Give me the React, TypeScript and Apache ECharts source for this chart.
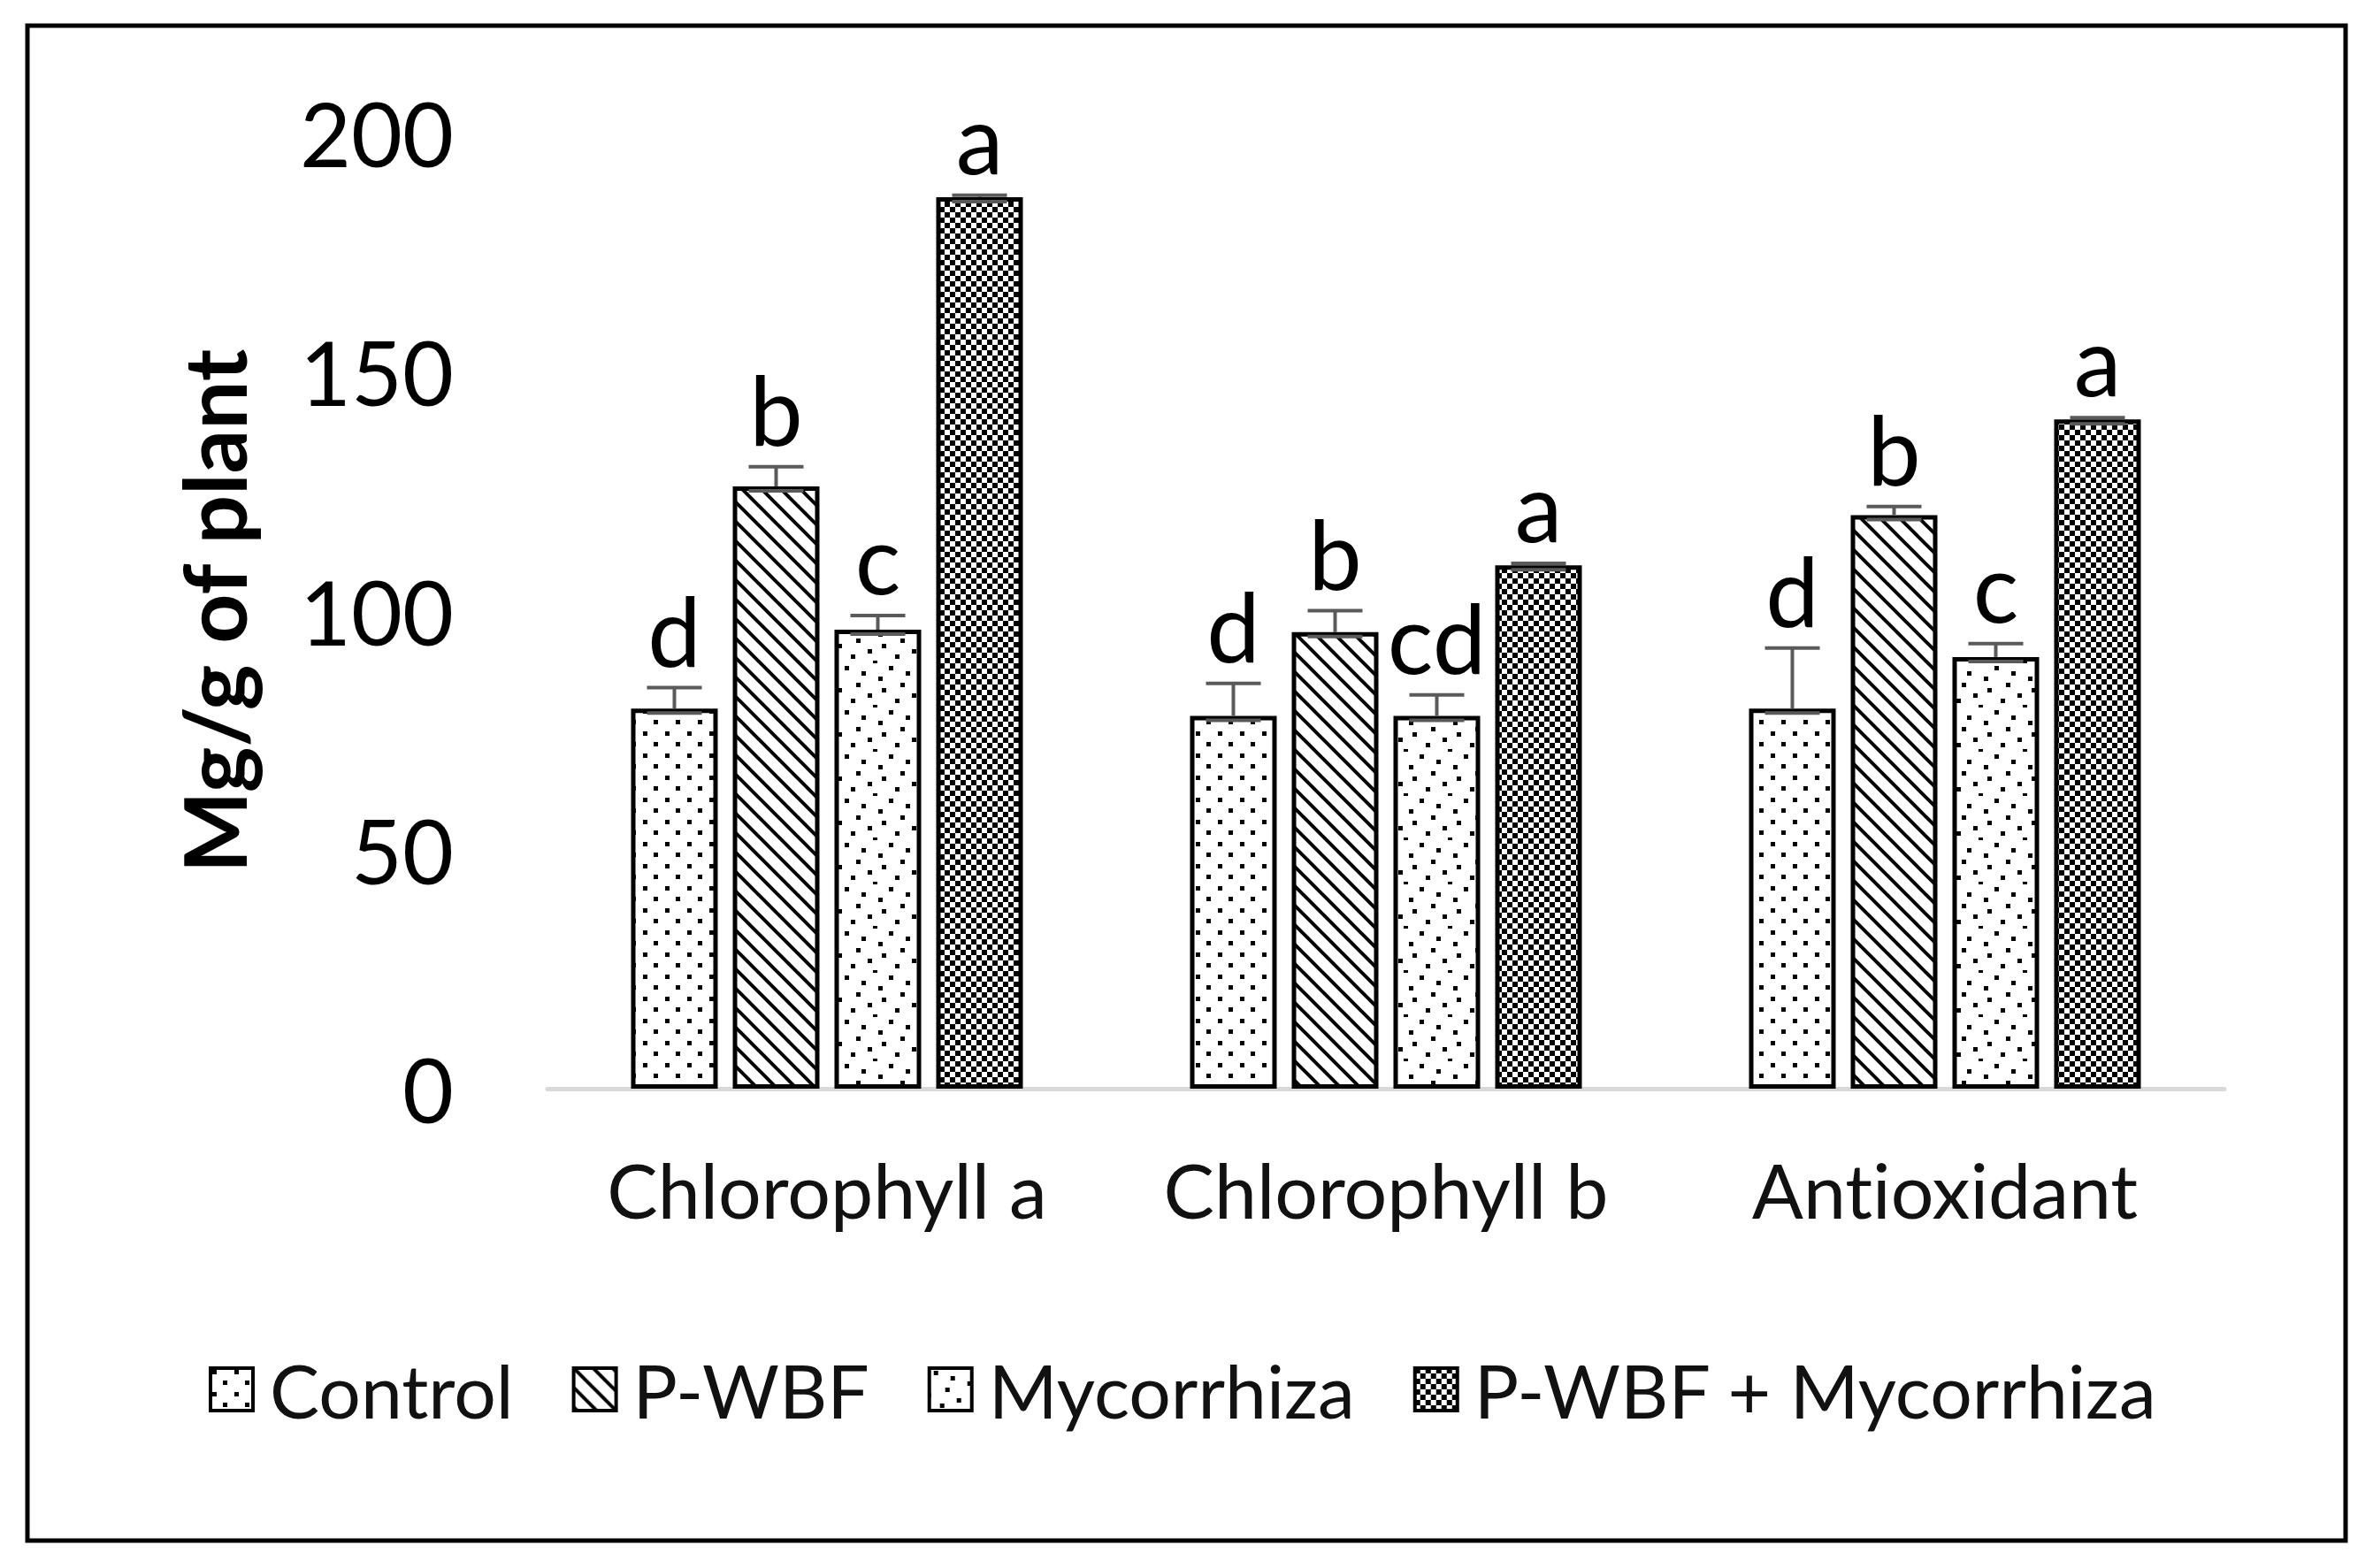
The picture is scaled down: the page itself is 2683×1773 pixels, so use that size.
import React, { useEffect, useRef } from 'react';
import * as echarts from 'echarts';

const categories = ['Chlorophyll a', 'Chlorophyll b', 'Antioxidant'];
const seriesNames = ['Control', 'P-WBF', 'Mycorrhiza', 'P-WBF + Mycorrhiza'];

const controlValues = [79.5, 78, 79.5];
const pwbfValues = [126, 95.5, 120];
const mycorrhizaValues = [96, 78, 90.3];
const combinedValues = [186.5, 109.5, 140];

const controlErr = [4.4, 6.8, 12.7];
const pwbfErr = [4.1, 4.5, 1.8];
const mycorrhizaErr = [3.0, 4.4, 2.8];
const combinedErr = [0.4, 0.4, 0.4];

const controlLetters = ['d', 'd', 'd'];
const pwbfLetters = ['b', 'b', 'b'];
const mycorrhizaLetters = ['c', 'cd', 'c'];
const combinedLetters = ['a', 'a', 'a'];

const yMin = 0;
const yMax = 200;
const yInterval = 50;

const FONT = 'Lato, "Open Sans", sans-serif';
const BAR_W = 98;
const BAR_GAP = 17;
const STEP = BAR_W + BAR_GAP;

function makeTile(w: number, h: number, draw: (ctx: CanvasRenderingContext2D) => void) {
  const c = document.createElement('canvas');
  c.width = w;
  c.height = h;
  const ctx = c.getContext('2d')!;
  ctx.fillStyle = '#ffffff';
  ctx.fillRect(0, 0, w, h);
  ctx.fillStyle = '#000000';
  ctx.strokeStyle = '#000000';
  draw(ctx);
  return { image: c, repeat: 'repeat', imageWidth: w, imageHeight: h } as any;
}

function buildPatterns() {
  const dots = makeTile(25, 25, (ctx) => {
    ctx.fillRect(2, 2, 5, 5);
    ctx.fillRect(14, 14, 5, 5);
  });
  const diag = makeTile(22, 22, (ctx) => {
    ctx.lineWidth = 4;
    for (const x0 of [-22, 0, 22]) {
      ctx.beginPath();
      ctx.moveTo(x0 - 2, -2);
      ctx.lineTo(x0 + 24, 24);
      ctx.stroke();
    }
  });
  const rows = [3, 9, 15, 22, 28, 34, 40, 47];
  const cols = [5, 24, 43, 18, 47, 31, 12, 37];
  const scatter = makeTile(50, 50, (ctx) => {
    rows.forEach((y, i) => {
      ctx.fillRect(cols[i], y, 5, 5);
      ctx.fillRect(cols[i] - 50, y, 5, 5);
    });
  });
  const checker = makeTile(12, 12, (ctx) => {
    ctx.fillRect(0, 0, 6, 6);
    ctx.fillRect(6, 6, 6, 6);
  });
  return [dots, diag, scatter, checker];
}

export default function App() {
  const ref = useRef<HTMLDivElement>(null);

  useEffect(() => {
    document.body.style.margin = '0';
    document.body.style.overflow = 'hidden';
    if (!ref.current) return;
    const chart = echarts.init(ref.current, undefined, { renderer: 'svg' });

    const values = [controlValues, pwbfValues, mycorrhizaValues, combinedValues];
    const errs = [controlErr, pwbfErr, mycorrhizaErr, combinedErr];
    const letters = [controlLetters, pwbfLetters, mycorrhizaLetters, combinedLetters];
    const patterns = buildPatterns();

    const barSeries = seriesNames.map((name, si) => ({
      type: 'bar',
      name,
      data: values[si],
      barWidth: BAR_W,
      barGap: `${(BAR_GAP / BAR_W) * 100}%`,
      itemStyle: {
        color: patterns[si],
        borderColor: '#000',
        borderWidth: 5,
      },
      z: 2,
    }));

    const errSeries = seriesNames.map((name, si) => ({
      type: 'custom',
      name: name + ' error',
      silent: true,
      z: 5,
      data: categories.map((_, ci) => [ci, values[si][ci], errs[si][ci]]),
      renderItem: (params: any, api: any) => {
        const ci = api.value(0);
        const v = api.value(1);
        const e = api.value(2);
        const base = api.coord([ci, v]);
        const top = api.coord([ci, v + e]);
        const x = base[0] + (si - 1.5) * STEP;
        const half = 31;
        const lineStyle = { stroke: '#5a5a5a', lineWidth: 4 };
        return {
          type: 'group',
          children: [
            { type: 'line', shape: { x1: x, y1: base[1], x2: x, y2: top[1] }, style: lineStyle },
            { type: 'line', shape: { x1: x - half, y1: top[1], x2: x + half, y2: top[1] }, style: lineStyle },
            { type: 'line', shape: { x1: x - half, y1: base[1] + 5, x2: x + half, y2: base[1] + 5 }, style: lineStyle },
            {
              type: 'text',
              x,
              y: top[1] - 12,
              style: {
                text: letters[si][params.dataIndex],
                fontFamily: FONT,
                fontSize: 108,
                fill: '#000',
                align: 'center',
                verticalAlign: 'bottom',
              },
            },
          ],
        };
      },
    }));

    chart.setOption({
      animation: false,
      backgroundColor: '#ffffff',
      grid: { left: 619, right: 168, top: 150, bottom: 542, containLabel: false },
      legend: {
        data: seriesNames,
        left: 231,
        top: 1524,
        icon: 'rect',
        itemWidth: 48,
        itemHeight: 48,
        itemGap: 66,
        itemStyle: { borderColor: '#000', borderWidth: 4 },
        textStyle: { fontFamily: FONT, fontSize: 84, color: '#111', padding: [0, 0, 0, 14] },
      },
      xAxis: {
        type: 'category',
        data: categories,
        axisLine: { show: true, lineStyle: { color: '#d9d9d9', width: 5 } },
        axisTick: { show: false },
        axisLabel: { interval: 0, fontFamily: FONT, fontSize: 86, color: '#111', margin: 70 },
        splitLine: { show: false },
      },
      yAxis: {
        type: 'value',
        min: yMin,
        max: yMax,
        interval: yInterval,
        axisLine: { show: false },
        axisTick: { show: false },
        splitLine: { show: false },
        axisLabel: { fontFamily: FONT, fontSize: 100, color: '#000', margin: 106 },
      },
      graphic: [
        {
          type: 'rect',
          shape: { x: 31, y: 29, width: 2621, height: 1713 },
          style: { fill: 'transparent', stroke: '#000', lineWidth: 5 },
          silent: true,
        },
        {
          type: 'text',
          x: 241,
          y: 691,
          rotation: Math.PI / 2,
          style: {
            text: 'Mg/g of plant',
            fontFamily: FONT,
            fontWeight: 'bold',
            fontSize: 98,
            fill: '#000',
            align: 'center',
            verticalAlign: 'middle',
          },
        },
      ],
      series: [...barSeries, ...errSeries],
    });

    return () => chart.dispose();
  }, []);

  return (
    <div
      ref={ref}
      style={{ width: 2683, height: 1773, fontVariantLigatures: 'none', fontFeatureSettings: '"liga" 0, "clig" 0' }}
    />
  );
}
